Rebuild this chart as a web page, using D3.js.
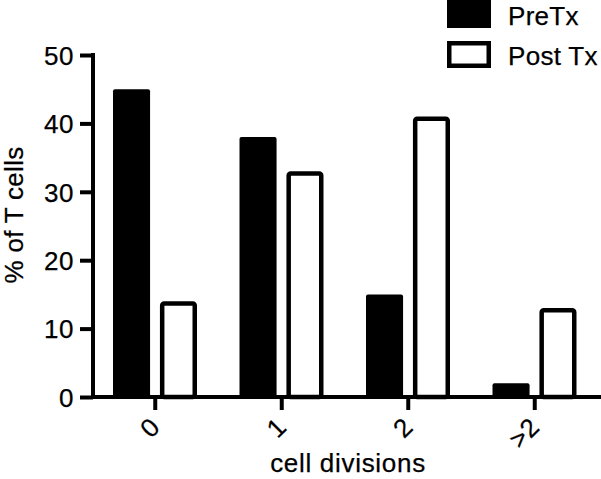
<!DOCTYPE html>
<html>
<head>
<meta charset="utf-8">
<script src="https://cdn.jsdelivr.net/npm/d3@7"></script>
<style>
  body { margin: 0; background: #fff; }
  svg text { font-family: "Liberation Sans", Arial, sans-serif; fill: #000; stroke: #000; stroke-width: 0.25px; }
</style>
</head>
<body>
<div id="chart"></div>
<script>
// data
const categories = ["0", "1", "2", ">2"];
const seriesNames = ["PreTx", "Post Tx"];
const preTx = [45, 38, 15, 2];
const postTx = [14, 33, 41, 13];
const yTicks = [0, 10, 20, 30, 40, 50];

const width = 601, height = 479;
const sw = 4.5; // outline width of the open bars
const fs = "26px";

const svg = d3.select("#chart")
    .append("svg")
    .attr("width", width)
    .attr("height", height);

const x = d3.scaleBand()
    .domain(categories)
    .range([92, 598])
    .padding(0);

const sub = d3.scaleBand()
    .domain(seriesNames)
    .range([21, 105])
    .paddingInner(0.21);

const y = d3.scaleLinear()
    .domain([0, 50])
    .range([397, 55]);

const rows = categories.map((c, i) => ({cat: c, vals: [preTx[i], postTx[i]]}));

// bars
const groups = svg.selectAll("g.grp")
    .data(rows)
    .enter()
    .append("g")
    .attr("class", "grp")
    .attr("transform", d => "translate(" + x(d.cat) + ",0)");

groups.selectAll("rect")
    .data(d => d.vals.map((v, j) => ({name: seriesNames[j], v: v, j: j})))
    .enter()
    .append("rect")
    .attr("x", d => d.j == 0 ? sub(d.name) : sub(d.name) + sw / 2)
    .attr("width", d => d.j == 0 ? sub.bandwidth() : sub.bandwidth() - sw)
    .attr("y", d => d.j == 0 ? y(d.v) : y(d.v) + sw / 2)
    .attr("height", d => d.j == 0 ? y(0) - y(d.v) : y(0) - y(d.v) - sw / 2)
    .attr("rx", 2)
    .style("fill", d => d.j == 0 ? "#000" : "#fff")
    .style("stroke", d => d.j == 0 ? "none" : "#000")
    .style("stroke-width", sw);

// y axis
const yAxis = svg.append("g")
    .attr("transform", "translate(93,0)")
    .call(d3.axisLeft(y).tickValues(yTicks).tickSize(13).tickPadding(6));
yAxis.select(".domain").remove();
yAxis.append("line")
    .attr("x1", 0).attr("x2", 0)
    .attr("y1", y(50) - 2).attr("y2", y(0))
    .style("stroke", "#000").style("stroke-width", 4);
yAxis.selectAll(".tick line").style("stroke", "#000").style("stroke-width", 4);
yAxis.selectAll(".tick text")
    .style("font-size", fs)
    .style("letter-spacing", "0.5px")
    .attr("dy", "0.36em");

// x axis
const xAxis = svg.append("g")
    .attr("transform", "translate(0," + y(0) + ")")
    .call(d3.axisBottom(x).tickSize(13).tickSizeOuter(0));
xAxis.select(".domain").remove();
xAxis.append("line")
    .attr("x1", 91).attr("x2", width)
    .attr("y1", 0).attr("y2", 0)
    .style("stroke", "#000").style("stroke-width", 4);
xAxis.selectAll(".tick line").style("stroke", "#000").style("stroke-width", 4);
xAxis.selectAll(".tick text")
    .style("font-size", fs)
    .attr("text-anchor", "end")
    .attr("y", 0)
    .attr("dx", 0)
    .attr("dy", 0)
    .attr("transform", "translate(6,32) rotate(-45)");

// axis titles
svg.append("text")
    .attr("transform", "translate(23,215) rotate(-90)")
    .attr("text-anchor", "middle")
    .style("font-size", fs)
    .style("letter-spacing", "0.3px")
    .text("% of T cells");

svg.append("text")
    .attr("x", 348)
    .attr("y", 472)
    .attr("text-anchor", "middle")
    .style("font-size", fs)
    .style("letter-spacing", "0.7px")
    .text("cell divisions");

// legend
const legend = svg.selectAll("g.leg")
    .data(seriesNames)
    .enter()
    .append("g")
    .attr("class", "leg")
    .attr("transform", (d, i) => "translate(447," + (i * 40) + ")");

legend.append("rect")
    .attr("x", (d, i) => i == 0 ? 0 : sw / 2)
    .attr("y", (d, i) => i == 0 ? 0 : 1 + sw / 2)
    .attr("width", (d, i) => i == 0 ? 44 : 44 - sw)
    .attr("height", (d, i) => i == 0 ? 28 : 27 - sw)
    .style("fill", (d, i) => i == 0 ? "#000" : "#fff")
    .style("stroke", (d, i) => i == 0 ? "none" : "#000")
    .style("stroke-width", sw);

legend.append("text")
    .attr("x", 61)
    .attr("y", 25)
    .style("font-size", fs)
    .style("letter-spacing", "0.3px")
    .text(d => d);
</script>
</body>
</html>
